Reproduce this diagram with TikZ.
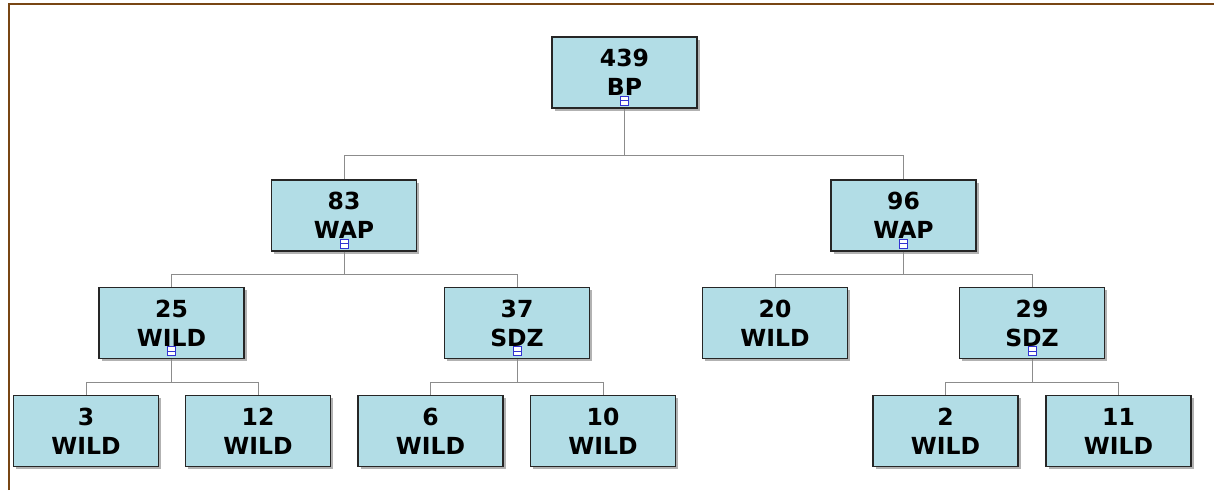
\documentclass[tikz,border=0pt]{standalone}
\usepackage{fontspec}
\setmainfont{DejaVu Sans}
\usetikzlibrary{shadows}
\definecolor{boxfill}{RGB}{178,221,230}
\definecolor{frameline}{RGB}{120,70,20}
\definecolor{linkgray}{RGB}{140,140,140}
\definecolor{markblue}{RGB}{50,50,210}
\tikzset{
  unit/.style={draw=black!85, line width=1.3pt, fill=boxfill,
    minimum width=145pt, minimum height=71pt, inner sep=0pt,
    align=center, font=\bfseries\fontsize{23.5}{29}\selectfont,
    drop shadow={shadow xshift=2.5pt, shadow yshift=-2.5pt, opacity=0.6}},
  link/.style={draw=linkgray, line width=0.8pt},
  marker/.style={draw=markblue, line width=0.8pt, fill=white,
    minimum width=8pt, minimum height=9pt, inner sep=0pt,
    path picture={\draw[markblue, line width=0.7pt]
      (path picture bounding box.west) -- (path picture bounding box.east);}}
}
\begin{document}
\begin{tikzpicture}[x=1pt, y=-1pt]
  \useasboundingbox (0,0) rectangle (1214,490);
  \fill[white] (0,0) rectangle (1214,490);
  % border of the page
  \draw[frameline, line width=2pt] (9,490) -- (9,4) -- (1214,4);

  % level 0
  \node[unit] (bp) at (624.5,72.5) {439\\BP};
  % level 1
  \node[unit] (wapL) at (344,215.5) {83\\WAP};
  \node[unit] (wapR) at (903.5,215.5) {96\\WAP};
  % level 2
  \node[unit] (wildA) at (171.5,323) {25\\WILD};
  \node[unit] (sdzA) at (517,323) {37\\SDZ};
  \node[unit] (wildB) at (775,323) {20\\WILD};
  \node[unit] (sdzB) at (1032,323) {29\\SDZ};
  % level 3
  \node[unit] (w3) at (86,431) {3\\WILD};
  \node[unit] (w12) at (258,431) {12\\WILD};
  \node[unit] (w6) at (430.5,431) {6\\WILD};
  \node[unit] (w10) at (603,431) {10\\WILD};
  \node[unit] (w2) at (945.5,431) {2\\WILD};
  \node[unit] (w11) at (1118.5,431) {11\\WILD};

  % connectors
  \draw[link] (bp.south) -- (bp.south |- 0,155) -| (wapL.north);
  \draw[link] (bp.south |- 0,155) -| (wapR.north);
  \draw[link] (wapL.south) -- (wapL.south |- 0,274) -| (wildA.north);
  \draw[link] (wapL.south |- 0,274) -| (sdzA.north);
  \draw[link] (wapR.south) -- (wapR.south |- 0,274) -| (wildB.north);
  \draw[link] (wapR.south |- 0,274) -| (sdzB.north);
  \draw[link] (wildA.south) -- (wildA.south |- 0,382) -| (w3.north);
  \draw[link] (wildA.south |- 0,382) -| (w12.north);
  \draw[link] (sdzA.south) -- (sdzA.south |- 0,382) -| (w6.north);
  \draw[link] (sdzA.south |- 0,382) -| (w10.north);
  \draw[link] (sdzB.south) -- (sdzB.south |- 0,382) -| (w2.north);
  \draw[link] (sdzB.south |- 0,382) -| (w11.north);

  % collapse markers on expanded units
  \node[marker] (mbp) at ([yshift=8pt]bp.south) {};
  \node[marker] (mwapL) at ([yshift=8pt]wapL.south) {};
  \node[marker] (mwapR) at ([yshift=8pt]wapR.south) {};
  \node[marker] (mwildA) at ([yshift=8pt]wildA.south) {};
  \node[marker] (msdzA) at ([yshift=8pt]sdzA.south) {};
  \node[marker] (msdzB) at ([yshift=8pt]sdzB.south) {};
\end{tikzpicture}
\end{document}
